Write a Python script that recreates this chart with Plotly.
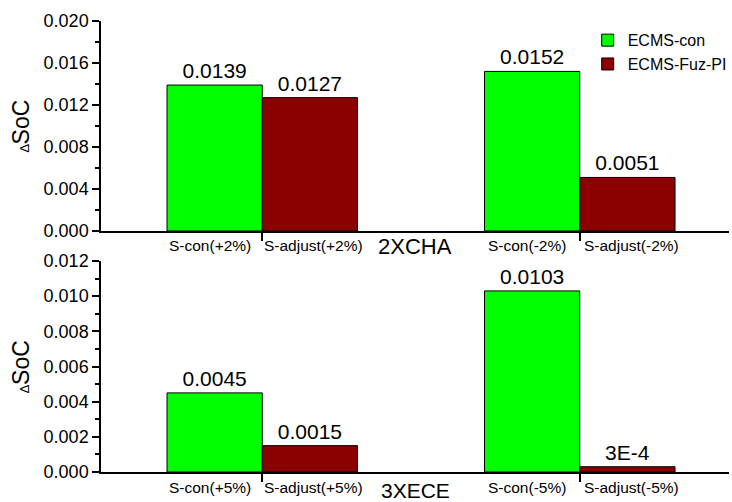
import plotly.graph_objects as go

# ---- data ----
group_pos = [1, 2]
labels_top_con = ["S-con(+2%)", "S-con(-2%)"]
labels_top_adj = ["S-adjust(+2%)", "S-adjust(-2%)"]
labels_bot_con = ["S-con(+5%)", "S-con(-5%)"]
labels_bot_adj = ["S-adjust(+5%)", "S-adjust(-5%)"]
top_con = [0.0139, 0.0152]
top_fuz = [0.0127, 0.0051]
bot_con = [0.0045, 0.0103]
bot_fuz = [0.0015, 0.0003]
top_con_txt = ["0.0139", "0.0152"]
top_fuz_txt = ["0.0127", "0.0051"]
bot_con_txt = ["0.0045", "0.0103"]
bot_fuz_txt = ["0.0015", "3E-4"]
series_names = ["ECMS-con", "ECMS-Fuz-PI"]
panel_titles = ["2XCHA", "3XECE"]

GREEN = "#00FF00"
RED = "#8B0000"
FONT = "Arial, Liberation Sans, sans-serif"

fig = go.Figure()

def add_bars(x, y, txt, color, name, xa, ya, show):
    fig.add_trace(go.Bar(
        x=x, y=y, text=txt, textposition="outside", name=name,
        marker=dict(color=color, line=dict(color="black", width=1)),
        textfont=dict(size=21, color="black", family=FONT),
        cliponaxis=False, constraintext="none",
        xaxis=xa, yaxis=ya, showlegend=show, offsetgroup=name,
    ))

add_bars(group_pos, top_con, top_con_txt, GREEN, series_names[0], "x", "y", True)
add_bars(group_pos, top_fuz, top_fuz_txt, RED, series_names[1], "x", "y", True)
add_bars(group_pos, bot_con, bot_con_txt, GREEN, series_names[0], "x2", "y2", False)
add_bars(group_pos, bot_fuz, bot_fuz_txt, RED, series_names[1], "x2", "y2", False)

xr = [0.492, 2.470]
top_ticks = [0.5 + 0.2 * i for i in range(10)]
top_dom = [0.5344, 1.0]
bot_dom = [0.0, 0.4678]

axis_common = dict(showline=True, linecolor="black", linewidth=1.5, showgrid=False,
                   zeroline=False, mirror=False)

ytitle = "<span style='font-size:13px'>∆</span>SoC"

fig.update_layout(
    width=732, height=502,
    margin=dict(l=101, r=0, t=21, b=30),
    paper_bgcolor="white", plot_bgcolor="white",
    barmode="group", bargap=0.4, bargroupgap=0,
    font=dict(family=FONT, color="black"),
    xaxis=dict(domain=[0, 1], anchor="y", range=xr, tickvals=group_pos, showticklabels=False,
               ticks="outside", ticklen=8, tickwidth=1.5, tickcolor="black", **axis_common),
    xaxis3=dict(overlaying="x", side="top", anchor="y", range=xr, tickvals=top_ticks,
                showticklabels=False, ticks="inside", ticklen=8, tickwidth=1.5,
                tickcolor="black", **axis_common),
    yaxis=dict(domain=top_dom, anchor="x", range=[0, 0.020], tickvals=[0.004 * i for i in range(6)],
               tickformat=".3f", ticks="outside", ticklen=7, tickwidth=1.5, tickcolor="black",
               tickfont=dict(size=18), minor=dict(ticks="outside", ticklen=4, dtick=0.002,
                                                  tickcolor="black", tickwidth=1.5),
               title=dict(text=ytitle, font=dict(size=23), standoff=8),
               **axis_common),
    xaxis2=dict(domain=[0, 1], anchor="y2", range=xr, tickvals=group_pos, showticklabels=False,
                ticks="outside", ticklen=8, tickwidth=1.5, tickcolor="black", **axis_common),
    xaxis4=dict(overlaying="x2", side="top", anchor="y2", range=xr, tickvals=top_ticks,
                showticklabels=False, ticks="inside", ticklen=8, tickwidth=1.5,
                tickcolor="black", **axis_common),
    yaxis2=dict(domain=bot_dom, anchor="x2", range=[0, 0.012], tickvals=[0.002 * i for i in range(7)],
                tickformat=".3f", ticks="outside", ticklen=7, tickwidth=1.5, tickcolor="black",
                tickfont=dict(size=18), minor=dict(ticks="outside", ticklen=4, dtick=0.001,
                                                   tickcolor="black", tickwidth=1.5),
                title=dict(text=ytitle, font=dict(size=23), standoff=8),
                **axis_common),
    legend=dict(x=0.775, y=0.995, xanchor="left", yanchor="top", bgcolor="rgba(0,0,0,0)",
                font=dict(size=16), tracegroupgap=0, itemwidth=30),
)

ann = []
off = 0.15
for xa, ya, con_l, adj_l in [("x", "y", labels_top_con, labels_top_adj),
                              ("x2", "y2", labels_bot_con, labels_bot_adj)]:
    for i, g in enumerate(group_pos):
        for lab, dx, sh in [(con_l[i], -off, -5), (adj_l[i], off, 4)]:
            ann.append(dict(x=g + dx, y=0, xref=xa, yref=ya + " domain", text=lab,
                            showarrow=False, yanchor="middle", yshift=-15, xshift=sh,
                            font=dict(size=15.5)))
ann.append(dict(x=0.5, y=bot_dom[1] + (top_dom[0] - bot_dom[1]) / 2, xref="paper", yref="paper",
                text=panel_titles[0], showarrow=False, yanchor="middle",
                font=dict(size=22)))
ann.append(dict(x=0.5, y=0, xref="paper", yref="paper", text=panel_titles[1],
                showarrow=False, yanchor="middle", yshift=-18, font=dict(size=21)))
fig.update_layout(annotations=ann)

fig.write_html("out.html")
